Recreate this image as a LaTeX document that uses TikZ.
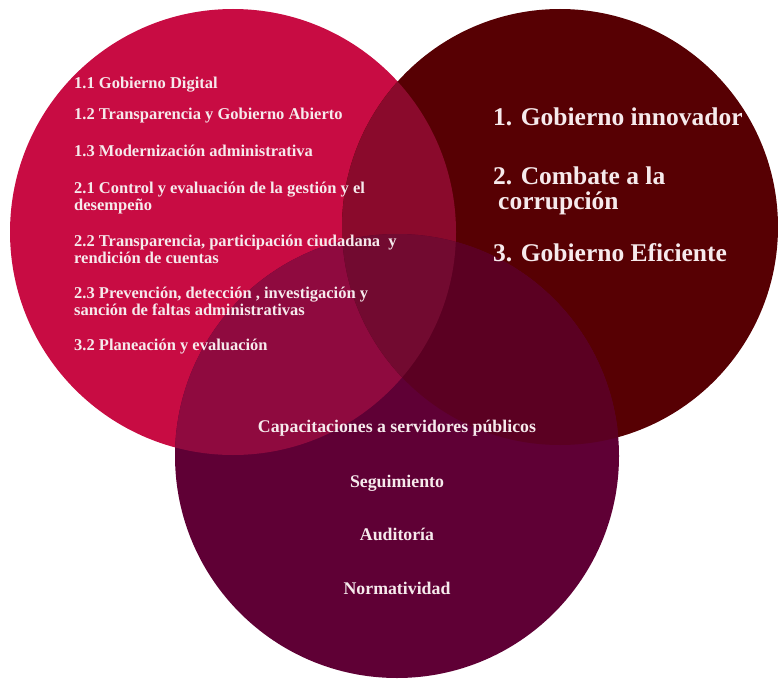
\documentclass[tikz,border=0pt]{standalone}
\usepackage{fontspec}
\setmainfont{Liberation Serif}
\definecolor{cLeft}{HTML}{C80C43}
\definecolor{cRight}{HTML}{570003}
\definecolor{cBottom}{HTML}{5F0035}
\definecolor{cLR}{HTML}{8A0A2C}
\definecolor{cLB}{HTML}{8F0A3F}
\definecolor{cRB}{HTML}{5B0022}
\definecolor{cLRB}{HTML}{720A30}
\definecolor{txt}{HTML}{F6EAEC}
\tikzset{
  lefttxt/.style={anchor=base west, inner sep=0pt, text=txt, font=\bfseries\fontsize{16.5}{17}\selectfont, align=left},
  righttxt/.style={anchor=base west, inner sep=0pt, text=txt, font=\bfseries\fontsize{25.5}{24.5}\selectfont, align=left},
  bottxt/.style={anchor=base, inner sep=0pt, text=txt, font=\bfseries\fontsize{17.8}{17}\selectfont},
}
\begin{document}
\begin{tikzpicture}[x=1pt,y=-1pt]
\useasboundingbox (0,0) rectangle (778,679);
\def\cL{(233,232) circle[radius=223]}
\def\cR{(560,227) circle[radius=218]}
\def\cB{(397,456) circle[radius=222]}
\fill[cLeft] \cL;
\fill[cRight] \cR;
\fill[cBottom] \cB;
\begin{scope}
  \clip \cL;
  \fill[cLR] \cR;
  \fill[cLB] \cB;
\end{scope}
\begin{scope}
  \clip \cR;
  \fill[cRB] \cB;
\end{scope}
\begin{scope}
  \clip \cL; \clip \cR;
  \fill[cLRB] \cB;
\end{scope}
% left circle texts
\node[lefttxt] (l1) at (74,89) {1.1 Gobierno Digital};
\node[lefttxt] (l2) at (74,120) {1.2 Transparencia y Gobierno Abierto};
\node[lefttxt] (l3) at (74,157) {1.3 Modernización administrativa};
\node[lefttxt] (l4) at (74,210) {2.1 Control y evaluación de la gestión y el\\desempeño};
\node[lefttxt] (l5) at (74,263) {2.2 Transparencia, participación ciudadana\ \ y\\rendición de cuentas};
\node[lefttxt] (l6) at (74,315) {2.3 Prevención, detección , investigación y\\sanción de faltas administrativas};
\node[lefttxt] (l7) at (74,350) {3.2 Planeación y evaluación};
% right circle texts
\node[righttxt] (r1) at (493,126) {1. Gobierno innovador};
\node[righttxt] (r2) at (493,209) {2. Combate a la\\\hspace*{5pt}corrupción};
\node[righttxt] (r3) at (493,261) {3. Gobierno Eficiente};
% bottom circle texts
\node[bottxt] (b1) at (397,432) {Capacitaciones a servidores públicos};
\node[bottxt] (b2) at (397,487) {Seguimiento};
\node[bottxt] (b3) at (397,540) {Auditoría};
\node[bottxt] (b4) at (397,594) {Normatividad};
\end{tikzpicture}
\end{document}
